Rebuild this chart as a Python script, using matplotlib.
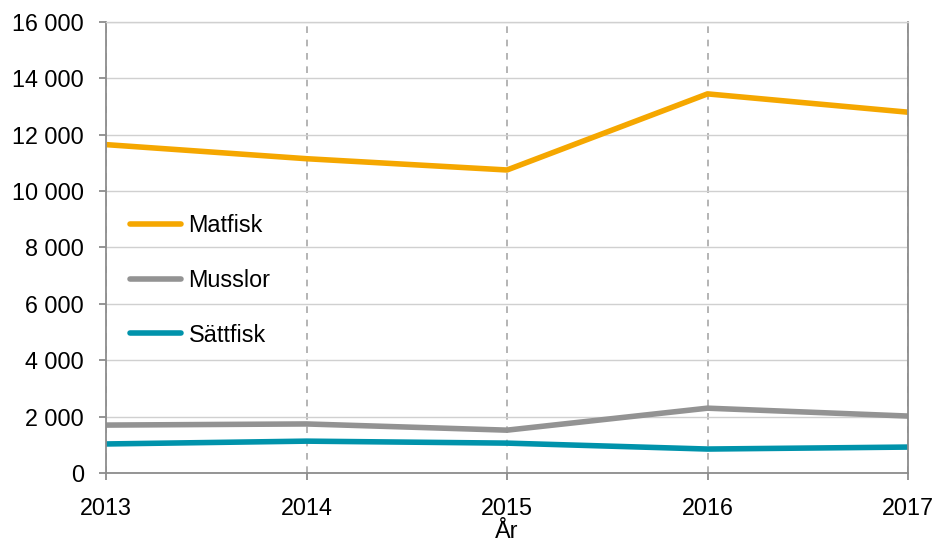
import matplotlib.pyplot as plt
from matplotlib.ticker import FuncFormatter

plt.rcParams['font.family'] = ['Liberation Sans', 'DejaVu Sans']

years = [2013, 2014, 2015, 2016, 2017]
matfisk = [11650, 11150, 10750, 13450, 12800]
musslor = [1700, 1740, 1520, 2300, 2020]
sattfisk = [1030, 1130, 1060, 850, 920]

series = [("Matfisk", matfisk, "#F5A700"),
          ("Musslor", musslor, "#939393"),
          ("Sättfisk", sattfisk, "#0093AB")]

fs = 16.8

fig = plt.figure(figsize=(9.34, 5.42), dpi=100)
ax = fig.add_axes([106/934, 1-473/542, (908-106)/934, (473-22)/542])

for name, vals, col in series:
    ax.plot(years, vals, color=col, lw=4.0, label=name, solid_capstyle='round')

ax.set_xlim(2013, 2017)
ax.set_ylim(0, 16000)
ax.set_xticks(years)
ax.set_yticks(range(0, 16001, 2000))
ax.yaxis.set_major_formatter(FuncFormatter(lambda v, p: f"{int(v):,}".replace(",", " ")))

ax.grid(axis='y', color='#D0D0D0', lw=1.0)
ax.grid(axis='x', color='#A8A8A8', lw=1.2, ls=(0, (4, 4)))
ax.set_axisbelow(True)

for s in ax.spines.values():
    s.set_color('#8C8C8C')
    s.set_linewidth(1.3)
ax.spines['top'].set_color('#D0D0D0')
ax.spines['top'].set_linewidth(1.0)

ax.tick_params(axis='both', colors='#8C8C8C', labelcolor='black', labelsize=fs,
               length=5, width=1.3)
ax.tick_params(axis='x', pad=12)
ax.tick_params(axis='y', pad=11)
ax.set_xlabel("År", fontsize=fs, labelpad=0)

ax.legend(loc='upper left', bbox_to_anchor=(0.030, 0.574), frameon=False, fontsize=fs,
          handlelength=2.2, handletextpad=0.3, labelspacing=1.36,
          borderaxespad=0, borderpad=0)

fig.savefig("out.png", dpi=100)
